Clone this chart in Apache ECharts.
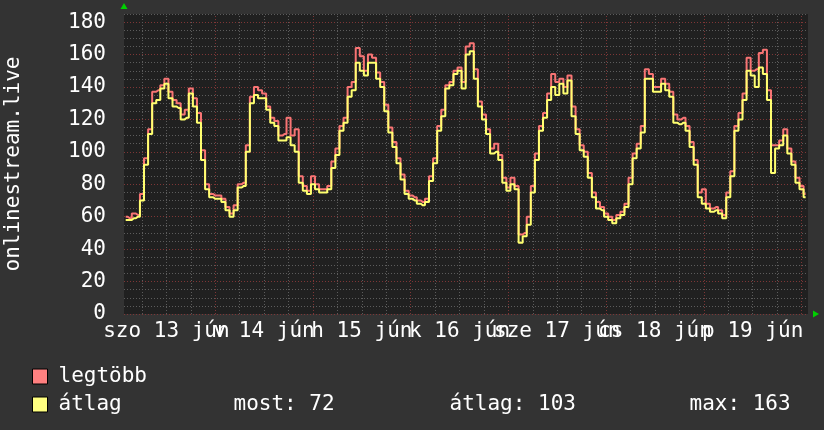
<!DOCTYPE html>
<html>
<head>
<meta charset="utf-8">
<script src="https://cdn.jsdelivr.net/npm/echarts@6/dist/echarts.min.js"></script>
<style>
html, body { margin: 0; padding: 0; background: #333333; }
#chart { width: 824px; height: 430px; }
</style>
</head>
<body>
<div id="chart"></div>
<script>
// x values are hours counted from 2020-06-13 00:00, one sample per hour
var firstHour = 2
var axisStart = 1 + 35 / 60 // jún 13 01:35
var axisEnd = 169 + 35 / 60 // jún 20 01:35

var dayLabels = ['szo 13 jún', 'v 14 jún', 'h 15 jún', 'k 16 jún', 'sze 17 jún', 'cs 18 jún', 'p 19 jún']
var noonHours = [12, 36, 60, 84, 108, 132, 156]
var midnightHours = [24, 48, 72, 96, 120, 144, 168]
var sixHourMarks = [6, 12, 18, 30, 36, 42, 54, 60, 66, 78, 84, 90, 102, 108, 114, 126, 132, 138, 150, 156, 162]

// legtöbb (max)
var maxValues = [
  60, 59, 62, 61, 74, 96, 114, 137, 138, 141, 145, 137, 132, 130, 123, 126, 139, 133, 124, 101, 80, 74,
  73, 73, 71, 66, 62, 67, 80, 81, 104, 134, 140, 138,
  136, 128, 121, 119, 110, 111, 121, 110, 114, 85, 79, 76, 85, 80, 77, 77, 79, 94, 102, 116, 121, 140,
  143, 164, 159, 150, 160, 158, 149, 143, 129, 115, 106,
  96, 86, 76, 73, 72, 70, 69, 71, 85, 96, 116, 126, 141, 143, 150, 152, 143, 165, 167, 151, 131, 123,
  114, 102, 105, 98, 84, 78, 84, 79, 49, 50,
  60, 79, 99, 116, 124, 136, 148, 143, 145, 140, 147, 128, 114, 104, 100, 87, 75, 69, 66, 62, 60, 58,
  61, 63, 68, 84, 99, 105, 116, 151, 148, 140, 140, 145,
  142, 137, 123, 120, 121, 116, 106, 95, 75, 77, 68, 65, 66, 64, 61, 75, 88, 116, 124, 136, 158, 150,
  151, 161, 163, 138, 104, 104, 107, 114, 102, 94, 84, 79, 74
]

// átlag (average)
var avgValues = [
  58, 58, 59, 60, 70, 92, 111, 130, 132, 139, 142, 133, 128, 127, 120, 121, 136, 128, 118, 95, 77, 72,
  71, 71, 69, 64, 60, 64, 78, 79, 100, 130, 135, 133,
  133, 126, 118, 116, 107, 107, 109, 104, 100, 81, 76, 74, 80, 77, 75, 75, 77, 90, 98, 113, 118, 134,
  138, 155, 150, 147, 155, 155, 145, 140, 125, 112, 103,
  93, 83, 74, 71, 70, 68, 67, 69, 82, 93, 113, 122, 139, 141, 148, 150, 139, 160, 162, 145, 128, 120,
  111, 99, 100, 95, 81, 76, 80, 77, 44, 48,
  55, 75, 95, 113, 121, 132, 140, 135, 142, 136, 144, 122, 111, 101, 97, 84, 72, 65, 64, 60, 58, 56,
  59, 61, 66, 80, 96, 102, 112, 145, 145, 137, 137, 142,
  138, 134, 118, 117, 118, 113, 103, 92, 72, 68, 65, 63, 64, 62, 59, 72, 85, 113, 120, 132, 150, 147,
  140, 152, 148, 132, 87, 102, 104, 110, 99, 92, 81, 77, 72
]

var statNow = 72
var statAvg = 103
var statMax = 163

var fontName = 'DejaVu Sans Mono'
var gridGray = '#5c5c5c'
var gridRed = '#7e3636'

function toPoints(values) {
  return values.map(function (v, i) {
    return [firstHour + i, v]
  })
}

// vertical grid lines drawn as markLines on the x scale
function vLines(hours) {
  return hours.map(function (h) {
    return { xAxis: h }
  })
}

// the day labels overlap a little, so they are split over two axes
// (echarts drops overlapping labels inside one axis)
function labelAxis(hours, showArrow) {
  return {
    type: 'value',
    position: 'bottom',
    min: axisStart,
    max: axisEnd,
    axisLine: {
      show: showArrow,
      symbol: ['none', 'triangle'],
      symbolSize: [7, 6],
      symbolOffset: [0, 8],
      lineStyle: { color: '#00d000', width: 0 }
    },
    axisTick: { show: false },
    splitLine: { show: false },
    axisLabel: {
      customValues: hours,
      showMinLabel: true,
      showMaxLabel: true,
      color: '#ffffff',
      fontFamily: fontName,
      fontSize: 21,
      margin: 7,
      formatter: function (v) {
        return dayLabels[noonHours.indexOf(Math.round(v))] || ''
      }
    }
  }
}

var chart = echarts.init(document.getElementById('chart'), null, { renderer: 'canvas' })

var option = {
  animation: false,
  backgroundColor: '#333333',
  textStyle: { fontFamily: fontName },
  grid: {
    left: 124,
    right: 16,
    top: 14,
    bottom: 116,
    outerBoundsMode: 'none',
    containLabel: false,
    show: true,
    backgroundColor: '#202020',
    borderWidth: 0
  },
  legend: {
    orient: 'vertical',
    left: 32,
    top: 366,
    padding: 0,
    itemWidth: 15,
    itemHeight: 15,
    itemGap: 7,
    icon: 'rect',
    selectedMode: false,
    itemStyle: { borderColor: '#000000', borderWidth: 1 },
    formatter: function (name) {
      if (name === 'átlag') {
        return '{a|átlag}{b|most: ' + statNow + '}{c|átlag: ' + statAvg + '}{d|max: ' + statMax + '}'
      }
      return '{a|' + name + '}'
    },
    textStyle: {
      color: '#ffffff',
      fontFamily: fontName,
      fontSize: 21,
      padding: [0, 0, 0, 6],
      rich: {
        a: { width: 175, color: '#ffffff', fontFamily: fontName, fontSize: 21 },
        b: { width: 216, color: '#ffffff', fontFamily: fontName, fontSize: 21 },
        c: { width: 240, color: '#ffffff', fontFamily: fontName, fontSize: 21 },
        d: { color: '#ffffff', fontFamily: fontName, fontSize: 21 }
      }
    },
    data: ['legtöbb', 'átlag']
  },
  xAxis: [
    labelAxis([12, 60, 108, 156], true),
    labelAxis([36, 84, 132], false)
  ],
  yAxis: {
    type: 'value',
    min: 0,
    max: 185,
    interval: 5,
    name: 'onlinestream.live',
    nameLocation: 'middle',
    nameRotate: 90,
    nameGap: 100,
    nameTextStyle: { color: '#ffffff', fontFamily: fontName, fontSize: 21 },
    axisLine: {
      show: true,
      symbol: ['none', 'triangle'],
      symbolSize: [7, 6],
      symbolOffset: [0, 8],
      lineStyle: { color: '#00d000', width: 0 }
    },
    axisTick: { show: false },
    axisLabel: {
      color: '#ffffff',
      fontFamily: fontName,
      fontSize: 21,
      margin: 18,
      formatter: function (v) {
        return v % 20 === 0 ? String(v) : ''
      }
    },
    splitLine: {
      show: true,
      lineStyle: { color: [gridRed, gridGray, gridGray, gridGray], type: [1, 2], width: 1 }
    }
  },
  series: [
    {
      name: 'legtöbb',
      type: 'line',
      step: 'middle',
      showSymbol: false,
      z: 3,
      color: '#ff8080',
      lineStyle: { color: '#f87474', width: 2 },
      markLine: {
        silent: true,
        symbol: ['none', 'none'],
        label: { show: false },
        z: 1,
        lineStyle: { color: gridGray, type: [1, 2], width: 1 },
        data: vLines(sixHourMarks)
      },
      data: toPoints(maxValues)
    },
    {
      name: 'átlag',
      type: 'line',
      step: 'middle',
      showSymbol: false,
      z: 4,
      color: '#ffff80',
      lineStyle: { color: '#ffff70', width: 2 },
      markLine: {
        silent: true,
        symbol: ['none', 'none'],
        label: { show: false },
        z: 1,
        lineStyle: { color: gridRed, type: [1, 2], width: 1 },
        data: vLines(midnightHours)
      },
      data: toPoints(avgValues)
    }
  ]
}

chart.setOption(option)
</script>
</body>
</html>
